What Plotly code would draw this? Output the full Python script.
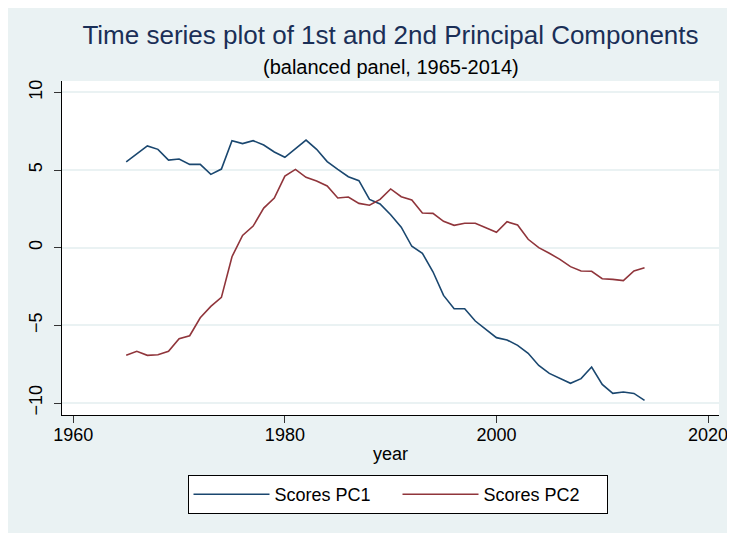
import plotly.graph_objects as go

years = list(range(1965, 2015))

pc1 = [5.52, 6.01, 6.55, 6.33, 5.64, 5.71, 5.36, 5.36, 4.72, 5.06,
       6.89, 6.70, 6.89, 6.61, 6.16, 5.82, 6.37, 6.93, 6.33, 5.54,
       5.04, 4.57, 4.31, 3.11, 2.81, 2.12, 1.32, 0.09, -0.36, -1.55,
       -3.07, -3.93, -3.93, -4.72, -5.26, -5.79, -5.94, -6.29, -6.80, -7.58,
       -8.09, -8.43, -8.73, -8.43, -7.68, -8.80, -9.38, -9.29, -9.38, -9.83]

pc2 = [-6.93, -6.67, -6.93, -6.89, -6.67, -5.86, -5.67, -4.51, -3.78, -3.20,
       -0.58, 0.79, 1.39, 2.55, 3.20, 4.61, 5.04, 4.53, 4.29, 3.97,
       3.20, 3.26, 2.85, 2.73, 3.11, 3.78, 3.28, 3.07, 2.23, 2.21,
       1.70, 1.44, 1.57, 1.57, 1.29, 0.99, 1.67, 1.46, 0.54, 0.00,
       -0.36, -0.75, -1.22, -1.50, -1.52, -2.00, -2.04, -2.12, -1.50, -1.29]

series_names = ["Scores PC1", "Scores PC2"]
series_colors = ["#1a476f", "#90353b"]
x_ticks = [1960, 1980, 2000, 2020]
y_ticks = [-10, -5, 0, 5, 10]

title_text = "Time series plot of 1st and 2nd Principal Components"
subtitle_text = "(balanced panel, 1965-2014)"

# the page body has an 8px margin, so the figure starts at page (8, 8)
OFF = 8
W, H = 735 - OFF, 533 - OFF
ML, MR, MT, MB = 62 - OFF, 16, 81 - OFF, 118
PW, PH = W - ML - MR, H - MT - MB

def px_y(page_p):
    p = page_p - OFF
    return (H - MB - p) / PH

FONT = "Liberation Sans, Arial, sans-serif"
BG = "#EAF2F3"

fig = go.Figure()
for name, vals, col in zip(series_names, [pc1, pc2], series_colors):
    fig.add_trace(go.Scatter(x=years, y=vals, mode="lines", name=name,
                             line=dict(color=col, width=1.6)))

fig.update_layout(
    width=W, height=H,
    margin=dict(l=ML, r=MR, t=MT, b=MB, pad=0),
    paper_bgcolor=BG, plot_bgcolor="white",
    font=dict(family=FONT, size=18, color="black"),
    title=dict(text=title_text, x=0.5, xref="paper", y=1 - (35 - OFF) / H,
               yref="container", yanchor="middle", xanchor="center",
               font=dict(size=26, color="#1a2f57", family=FONT)),
    showlegend=True,
    legend=dict(orientation="h", x=0.5 + 7 / PW, xanchor="center",
                y=px_y(475), yanchor="top",
                bgcolor="white", bordercolor="black", borderwidth=1,
                font=dict(size=18, family=FONT), itemwidth=76,
                entrywidth=118, traceorder="normal"),
    xaxis=dict(range=[1958.93, 2021.04], tickvals=x_ticks, showgrid=False,
               zeroline=False, showline=True, linecolor="black", linewidth=1,
               ticks="outside", ticklen=7, tickcolor="#333333", tickwidth=1,
               ticklabelstandoff=-4,
               title=dict(text="year", standoff=3, font=dict(size=18)),
               automargin=False, tickfont=dict(size=18)),
    yaxis=dict(range=[-10.77, 10.73], tickvals=y_ticks, showgrid=True,
               gridcolor=BG, gridwidth=1.5, zeroline=False, showline=True,
               linecolor="black", linewidth=1, ticks="outside", ticklen=7,
               tickcolor="#333333", tickwidth=1, tickangle=-90,
               ticklabelstandoff=5,
               automargin=False, tickfont=dict(size=18)),
    annotations=[dict(text=subtitle_text, xref="paper", yref="paper",
                      x=0.5, y=px_y(67), xanchor="center", yanchor="middle",
                      showarrow=False, font=dict(size=20, color="black", family=FONT))],
)

fig.write_html("out.html")
